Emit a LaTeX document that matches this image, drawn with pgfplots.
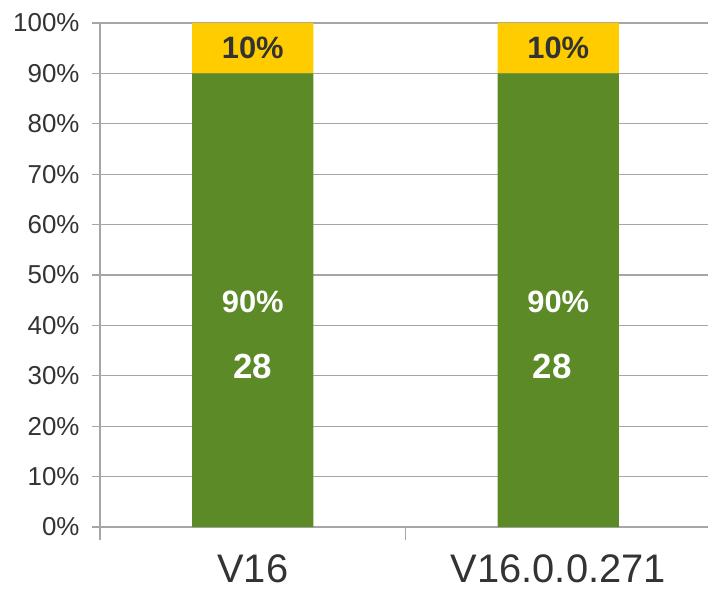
\documentclass[border=0pt]{standalone}
\usepackage{pgfplots}
\pgfplotsset{compat=1.18}
\usepackage{fontspec}
\setmainfont{Liberation Sans}
\definecolor{bargreen}{HTML}{5B8A27}
\definecolor{baryellow}{HTML}{FFCC00}
\definecolor{gridgray}{HTML}{A6A6A6}
\definecolor{txt}{HTML}{333333}
\begin{document}
\begin{tikzpicture}
\begin{axis}[
  scale only axis, width=608bp, height=504bp,
  xmin=-0.5, xmax=1.49, ymin=0, ymax=100,
  axis x line=bottom, axis y line=left,
  axis line style={-, draw=gridgray, line width=1.3bp},
  ybar stacked, bar width=0.397,
  ytick={0,10,...,100},
  yticklabels={0\%,10\%,20\%,30\%,40\%,50\%,60\%,70\%,80\%,90\%,100\%},
  yticklabel style={font=\fontsize{26}{30}\selectfont, text=txt, xshift=-9bp},
  ymajorgrids, grid style={draw=gridgray, line width=1.3bp},
  ytick style={draw=gridgray, line width=1.3bp},
  major tick length=8bp, tick align=outside,
  xtick={0,1}, xticklabels={V16,V16.0.0.271},
  xtick style={draw=none},
  xticklabel style={font=\fontsize{40}{46}\selectfont, text=txt, yshift=-18bp, inner sep=1bp},
  extra x ticks={-0.5,0.5,1.5}, extra x tick labels={},
  extra x tick style={xtick style={draw=gridgray, line width=1.3bp}, major tick length=13bp, tick align=outside, grid=none},
]
\addplot[fill=bargreen, draw=none] coordinates {(0,90) (1,90)};
\addplot[fill=baryellow, draw=none] coordinates {(0,10) (1,10)};
\coordinate (a1) at (axis cs:0,44.6);
\coordinate (a2) at (axis cs:0,31.9);
\coordinate (a3) at (axis cs:0,95);
\coordinate (b1) at (axis cs:1,44.6);
\coordinate (b2) at (axis cs:0.98,31.9);
\coordinate (b3) at (axis cs:1,95);
\end{axis}
\node[text=white, font=\bfseries\fontsize{31}{35}\selectfont] at (a1) {90\%};
\node[text=white, font=\bfseries\fontsize{35}{39}\selectfont] at (a2) {28};
\node[text=txt, font=\bfseries\fontsize{31}{35}\selectfont] at (a3) {10\%};
\node[text=white, font=\bfseries\fontsize{31}{35}\selectfont] at (b1) {90\%};
\node[text=white, font=\bfseries\fontsize{35}{39}\selectfont] at (b2) {28};
\node[text=txt, font=\bfseries\fontsize{31}{35}\selectfont] at (b3) {10\%};
\pgfresetboundingbox
\path ([shift={(-100bp,-66bp)}]current axis.south west) rectangle ([shift={(0bp,23bp)}]current axis.north east);
\end{tikzpicture}
\end{document}
